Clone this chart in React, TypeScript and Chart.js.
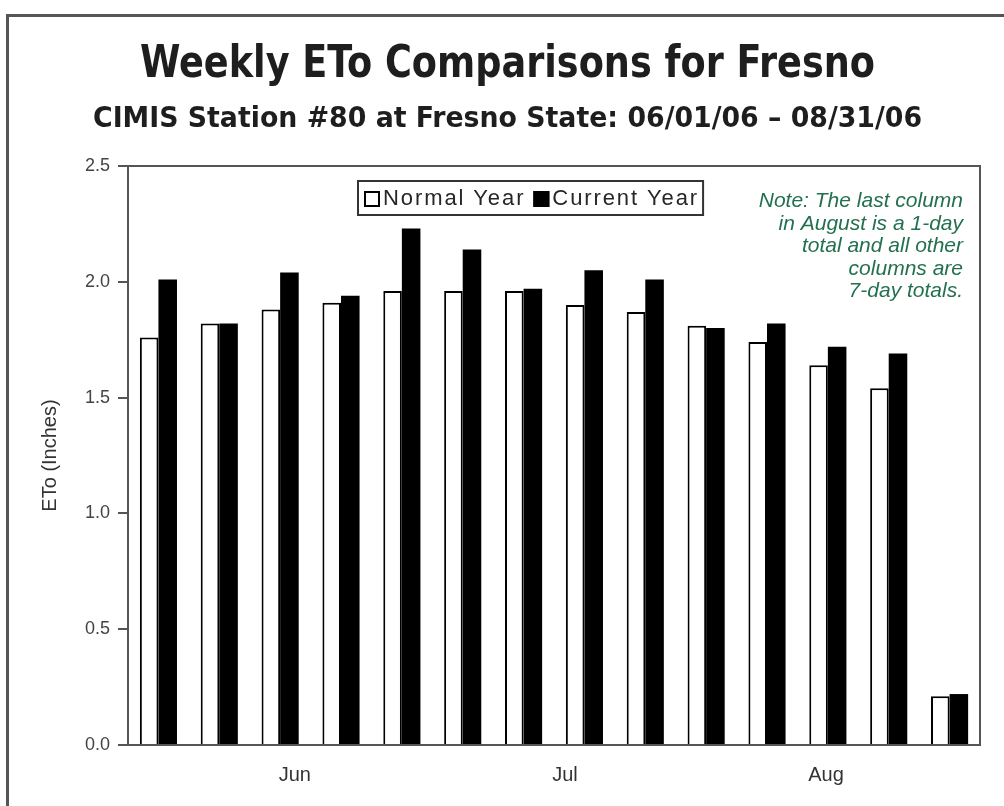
import React, { useEffect, useRef } from 'react';
import { Chart, registerables } from 'chart.js';

Chart.register(...registerables);

// ---- Data ----
const weekLabels = ['06/01', '06/08', '06/15', '06/22', '06/29', '07/06', '07/13', '07/20', '07/27', '08/03', '08/10', '08/17', '08/24', '08/31'];
const normalYear = [1.76, 1.82, 1.88, 1.91, 1.96, 1.96, 1.96, 1.90, 1.87, 1.81, 1.74, 1.64, 1.54, 0.21];
const currentYear = [2.01, 1.82, 2.04, 1.94, 2.23, 2.14, 1.97, 2.05, 2.01, 1.80, 1.82, 1.72, 1.69, 0.22];
const seriesNames = ['Normal Year', 'Current Year'];
const monthLabels = ['Jun', 'Jul', 'Aug'];
const monthTickPositions = [2.74, 7.18, 11.47];
const yTickMin = 0;
const yTickMax = 2.5;
const yTickStep = 0.5;
const titleText = 'Weekly ETo Comparisons for Fresno';
const subtitleText = 'CIMIS Station #80 at Fresno State: 06/01/06 \u2013 08/31/06';
const yAxisTitle = 'ETo (Inches)';
const noteLines = ['Note: The last column', 'in August is a 1-day', 'total and all other', 'columns are', '7-day totals.'];

const NARROW = '"DejaVu Sans Condensed", "Liberation Sans Narrow", "Liberation Sans", sans-serif';
const SANS = '"Liberation Sans", Arial, sans-serif';

const framePlugin = {
  id: 'outerFrame',
  beforeDraw(chart: any) {
    const ctx = chart.ctx;
    ctx.save();
    ctx.strokeStyle = '#555';
    ctx.lineWidth = 3;
    ctx.beginPath();
    ctx.moveTo(1004, 15.5);
    ctx.lineTo(7.5, 15.5);
    ctx.lineTo(7.5, 806);
    ctx.stroke();
    ctx.restore();
  },
};

function drawFitted(ctx: any, text: string, font: string, cx: number, baseline: number, targetWidth: number) {
  ctx.save();
  ctx.font = font;
  const w = ctx.measureText(text).width;
  ctx.translate(cx, baseline);
  ctx.scale(targetWidth / w, 1);
  ctx.textAlign = 'center';
  ctx.textBaseline = 'alphabetic';
  ctx.fillText(text, 0, 0);
  ctx.restore();
}

const titlesPlugin = {
  id: 'titles',
  afterDraw(chart: any) {
    const ctx = chart.ctx;
    ctx.save();
    ctx.fillStyle = '#1e1e1e';
    drawFitted(ctx, titleText, 'bold 45px ' + NARROW, 507.5, 77, 735);
    drawFitted(ctx, subtitleText, 'bold 28px ' + NARROW, 507.5, 127, 829);
    ctx.restore();
  },
};

const plotBorderPlugin = {
  id: 'plotBorder',
  afterDraw(chart: any) {
    const { ctx, chartArea } = chart;
    ctx.save();
    ctx.strokeStyle = '#555';
    ctx.lineWidth = 2;
    ctx.strokeRect(chartArea.left, chartArea.top, chartArea.right - chartArea.left, chartArea.bottom - chartArea.top);
    ctx.restore();
  },
};

const innerLegendPlugin = {
  id: 'innerLegend',
  afterDraw(chart: any) {
    const { ctx, chartArea } = chart;
    const ds = chart.data.datasets;
    ctx.save();
    ctx.font = '22px ' + SANS;
    (ctx as any).letterSpacing = '1.9px';
    ctx.textBaseline = 'middle';
    const left = chartArea.left + 230;
    const top = chartArea.top + 15;
    const h = 34;
    const sq = 16;
    let x = left + 6;
    const items: any[] = [];
    ds.forEach((d: any) => {
      const w = ctx.measureText(d.label).width;
      items.push({ x, d, w });
      x += sq + 3 + w + 8;
    });
    const width = x - 8 + 4 - left;
    ctx.fillStyle = '#fff';
    ctx.fillRect(left, top, width, h);
    ctx.strokeStyle = '#333';
    ctx.lineWidth = 2;
    ctx.strokeRect(left, top, width, h);
    items.forEach((it) => {
      const cy = top + h / 2 + 1;
      ctx.fillStyle = it.d.backgroundColor;
      ctx.fillRect(it.x, cy - sq / 2, sq, sq);
      ctx.strokeStyle = '#000';
      ctx.lineWidth = 2;
      ctx.strokeRect(it.x + 1, cy - sq / 2 + 1, sq - 2, sq - 2);
      ctx.fillStyle = '#262626';
      ctx.fillText(it.d.label, it.x + sq + 3, cy);
    });
    ctx.restore();
  },
};

const notePlugin = {
  id: 'noteText',
  afterDraw(chart: any) {
    const { ctx, chartArea } = chart;
    ctx.save();
    ctx.font = 'italic 21px ' + SANS;
    ctx.fillStyle = '#23704f';
    ctx.textAlign = 'right';
    ctx.textBaseline = 'alphabetic';
    const right = chartArea.right - 17;
    noteLines.forEach((line, i) => {
      ctx.fillText(line, right, chartArea.top + 41 + i * 22.5);
    });
    ctx.restore();
  },
};

export default function App() {
  const canvasRef = useRef<HTMLCanvasElement | null>(null);

  useEffect(() => {
    if (!canvasRef.current) return;
    const chart = new Chart(canvasRef.current, {
      type: 'bar',
      data: {
        labels: weekLabels,
        datasets: [
          {
            label: seriesNames[0],
            data: normalYear,
            backgroundColor: '#ffffff',
            borderColor: '#000000',
            borderWidth: 2,
            borderSkipped: 'bottom',
            categoryPercentage: 0.61,
            barPercentage: 1.0,
          },
          {
            label: seriesNames[1],
            data: currentYear,
            backgroundColor: '#000000',
            borderColor: '#000000',
            borderWidth: 0,
            categoryPercentage: 0.61,
            barPercentage: 1.0,
          },
        ],
      },
      options: {
        responsive: false,
        animation: false,
        devicePixelRatio: 1,
        layout: { padding: { top: 166, left: 0, right: 24, bottom: 0 } },
        plugins: {
          legend: { display: false },
          tooltip: { enabled: false },
          title: { display: false },
        },
        scales: {
          x: {
            type: 'category',
            position: 'bottom',
            weight: 0,
            grid: { display: false, drawTicks: false },
            border: { display: true, color: '#555', width: 2 },
            ticks: { display: false },
            afterFit: (scale: any) => { scale.height = 0; },
          },
          x2: {
            type: 'linear',
            position: 'bottom',
            weight: 1,
            offset: false,
            bounds: 'data',
            min: 0,
            max: weekLabels.length,
            grid: { display: false, drawTicks: false, offset: false },
            border: { display: false },
            ticks: {
              autoSkip: false,
              maxRotation: 0,
              padding: 18,
              color: '#333',
              font: { family: SANS, size: 20 },
              callback: (_v: any, i: number) => monthLabels[i],
            },
            afterBuildTicks: (scale: any) => {
              scale.ticks = monthTickPositions.map((value) => ({ value }));
            },
            afterFit: (scale: any) => { scale.height = 61; },
          },
          y: {
            min: yTickMin,
            max: yTickMax,
            grid: { display: true, drawOnChartArea: false, drawTicks: true, tickLength: 10, color: '#555', lineWidth: 2 },
            border: { display: true, color: '#555', width: 2 },
            ticks: {
              stepSize: yTickStep,
              padding: 8,
              color: '#444',
              font: { family: SANS, size: 18 },
              callback: (v: any) => Number(v).toFixed(1),
            },
            title: {
              display: true,
              text: yAxisTitle,
              color: '#333',
              font: { family: SANS, size: 20 },
              padding: { top: 38, bottom: 0 },
            },
            afterFit: (scale: any) => { scale.width = 128; },
          },
        },
      },
      plugins: [framePlugin, titlesPlugin, plotBorderPlugin, innerLegendPlugin, notePlugin],
    } as any);
    return () => chart.destroy();
  }, []);

  return (
    <div style={{ position: 'absolute', left: 0, top: 0, width: 1004, height: 806, background: '#fff' }}>
      <canvas ref={canvasRef} width={1004} height={806} style={{ display: 'block' }} />
    </div>
  );
}
